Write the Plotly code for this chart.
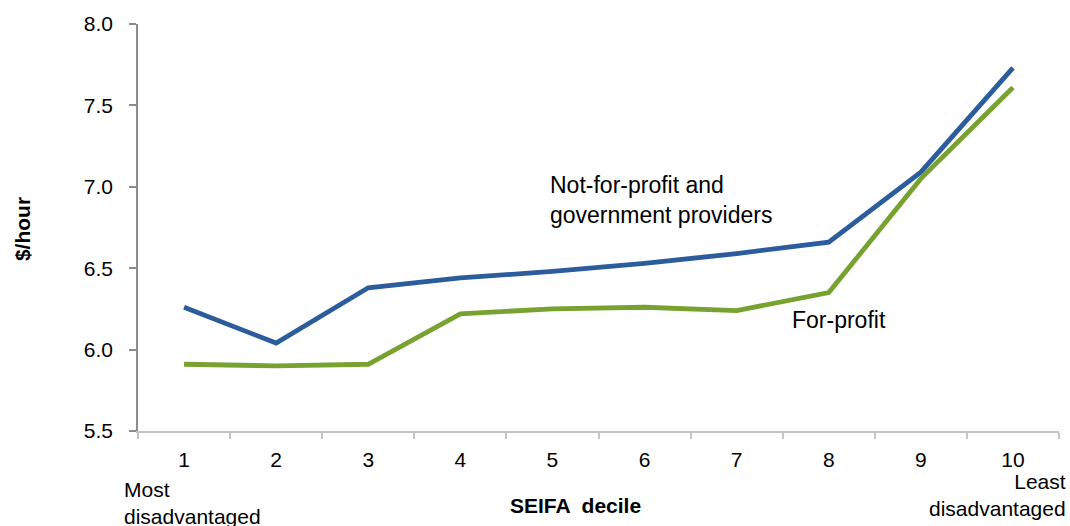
import plotly.graph_objects as go

deciles = [1, 2, 3, 4, 5, 6, 7, 8, 9, 10]
nfp_gov = [6.26, 6.04, 6.38, 6.44, 6.48, 6.53, 6.59, 6.66, 7.09, 7.73]
for_profit = [5.91, 5.90, 5.91, 6.22, 6.25, 6.26, 6.24, 6.35, 7.05, 7.61]
y_ticks = [5.5, 6.0, 6.5, 7.0, 7.5, 8.0]

FONT = "Liberation Sans, Arial, sans-serif"
BLUE = "#2b5c9c"
GREEN = "#77a22f"

fig = go.Figure()
fig.add_trace(go.Scatter(x=deciles, y=nfp_gov, mode="lines",
                         line=dict(color=BLUE, width=4.8), name="Not-for-profit and government providers"))
fig.add_trace(go.Scatter(x=deciles, y=for_profit, mode="lines",
                         line=dict(color=GREEN, width=4.8), name="For-profit"))

fig.update_layout(
    width=1070, height=526,
    margin=dict(l=138, r=11, t=24, b=95),
    plot_bgcolor="white", paper_bgcolor="white",
    showlegend=False,
    font=dict(family=FONT, size=21, color="black"),
)
fig.update_xaxes(
    range=[0.5, 10.5], tickvals=deciles, ticktext=[str(d) for d in deciles],
    ticks="", showgrid=False, zeroline=False, automargin=False,
    showline=True, linecolor="#c4c4c4", linewidth=1.5,
    tickfont=dict(size=21), ticklabelstandoff=9,
    minor=dict(tickvals=[0.5 + i for i in range(11)], ticks="outside",
               ticklen=6, tickcolor="#c4c4c4", tickwidth=1.5, showgrid=False),
)
fig.update_yaxes(
    range=[5.5, 8.0], tickvals=y_ticks, ticktext=[f"{v:.1f}" for v in y_ticks],
    ticks="outside", ticklen=7, tickcolor="#8c8c8c", tickwidth=1.5,
    showgrid=False, zeroline=False, automargin=False,
    showline=True, linecolor="#8c8c8c", linewidth=1.5,
    tickfont=dict(size=21), ticklabelstandoff=12,
)

fig.add_annotation(text="<b>$/hour</b>", xref="paper", yref="paper",
                   x=-0.126, y=0.496, textangle=-90, showarrow=False,
                   font=dict(size=21), xanchor="center", yanchor="middle")
fig.add_annotation(text="<b>SEIFA  decile</b>", xref="paper", yref="paper",
                   x=0.4745, y=-0.184, showarrow=False, font=dict(size=21),
                   xanchor="center", yanchor="middle")
fig.add_annotation(text="Most<br>disadvantaged", xref="paper", yref="paper",
                   x=-0.0174, y=-0.11, showarrow=False, align="left",
                   xanchor="left", yanchor="top", font=dict(size=21))
fig.add_annotation(text="Least<br>disadvantaged", xref="paper", yref="paper",
                   x=1.0098, y=-0.091, showarrow=False, align="right",
                   xanchor="right", yanchor="top", font=dict(size=21))
fig.add_annotation(text="Not-for-profit and<br>government providers", x=4.95, y=6.92,
                   showarrow=False, align="left", xanchor="left", yanchor="middle",
                   font=dict(size=23))
fig.add_annotation(text="For-profit", x=7.58, y=6.18,
                   showarrow=False, align="left", xanchor="left", yanchor="middle",
                   font=dict(size=23))

fig.write_html("out.html", config={"displayModeBar": False},
               post_script="document.body.style.margin='0';document.body.style.overflow='hidden';")
